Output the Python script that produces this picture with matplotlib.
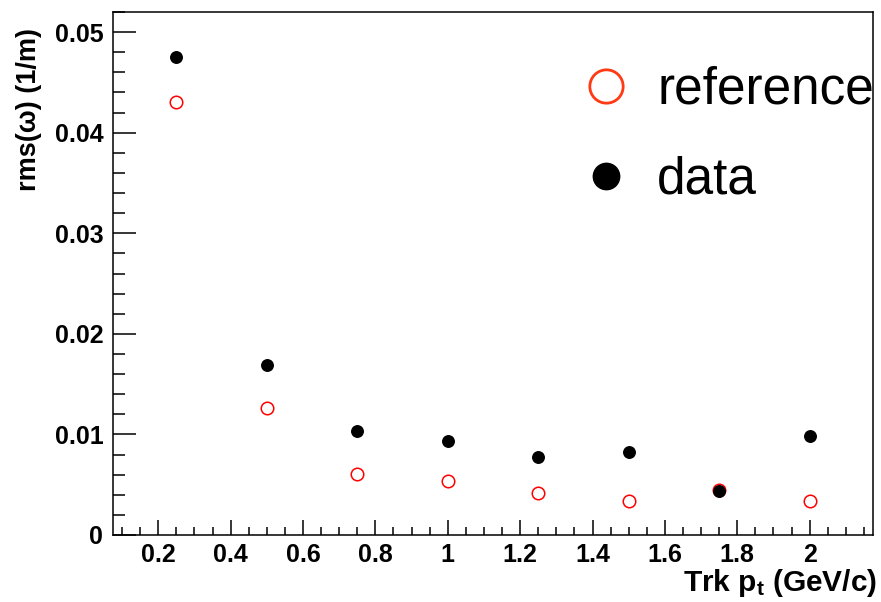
import matplotlib
matplotlib.use('Agg')
import matplotlib.pyplot as plt
from matplotlib.lines import Line2D
from matplotlib.ticker import MultipleLocator
import numpy as np

# track pt bins (GeV/c)
pt = [0.25, 0.5, 0.75, 1.0, 1.25, 1.5, 1.75, 2.0]
# rms(omega) in 1/m
rms_reference = [0.0431, 0.0126, 0.0061, 0.0054, 0.0042, 0.0034, 0.0045, 0.0034]
rms_data = [0.0475, 0.0169, 0.0103, 0.0093, 0.0078, 0.0083, 0.0044, 0.0098]

plt.rcParams['font.family'] = ['Liberation Sans', 'DejaVu Sans']
plt.rcParams['mathtext.fontset'] = 'custom'
plt.rcParams['mathtext.rm'] = 'Liberation Sans:bold'
plt.rcParams['mathtext.it'] = 'Liberation Sans:bold'
plt.rcParams['mathtext.bf'] = 'Liberation Sans:bold'

fig = plt.figure(figsize=(8.81, 6.02), dpi=100)
ax = fig.add_axes([113 / 881, 67 / 602, 760 / 881, 523 / 602])

ax.plot(pt, rms_reference, 'o', mfc='none', mec='#ff0000', ms=9, mew=1.1, zorder=3)
ax.plot(pt, rms_data, 'o', color='black', ms=8.3, zorder=4)

ax.set_xlim(0.075, 2.175)
ax.set_ylim(0, 0.052)

ax.xaxis.set_major_locator(MultipleLocator(0.2))
ax.xaxis.set_minor_locator(MultipleLocator(0.05))
ax.yaxis.set_major_locator(MultipleLocator(0.01))
ax.yaxis.set_minor_locator(MultipleLocator(0.002))
ax.xaxis.set_major_formatter(matplotlib.ticker.FuncFormatter(lambda v, p: ('%g' % round(v, 3))))
ax.yaxis.set_major_formatter(matplotlib.ticker.FuncFormatter(lambda v, p: ('%g' % round(v, 4))))

ax.tick_params(axis='both', which='both', direction='in', top=False, right=False,
               width=1.1, labelsize=18)
ax.tick_params(axis='x', which='major', length=11, pad=6)
ax.tick_params(axis='x', which='minor', length=5.5)
ax.tick_params(axis='y', which='major', length=16.5, pad=7)
ax.tick_params(axis='y', which='minor', length=8.5)
for lab in ax.get_xticklabels() + ax.get_yticklabels():
    lab.set_fontweight('bold')
for sp in ax.spines.values():
    sp.set_linewidth(1.1)

ax.set_xlabel('Trk $p_t$ (GeV/c)', fontsize=21.5, fontweight='bold', ha='right')
ax.xaxis.set_label_coords(1.005, -0.062)
ax.set_ylabel('rms(ω) (1/m)', fontsize=19.5, fontweight='bold', ha='right')
ax.yaxis.set_label_coords(-0.093, 0.97)

handles = [
    Line2D([], [], ls='none', marker='o', mfc='none', mec='#ff3a14', ms=24, mew=2),
    Line2D([], [], ls='none', marker='o', color='black', ms=19),
]
ax.legend(handles, ['reference', 'data'], loc='upper left', bbox_to_anchor=(0.581, 0.937),
          frameon=False, fontsize=37, handlelength=1.2, handletextpad=0.4,
          labelspacing=0.8, borderaxespad=0)

fig.savefig('out.png', dpi=100)
